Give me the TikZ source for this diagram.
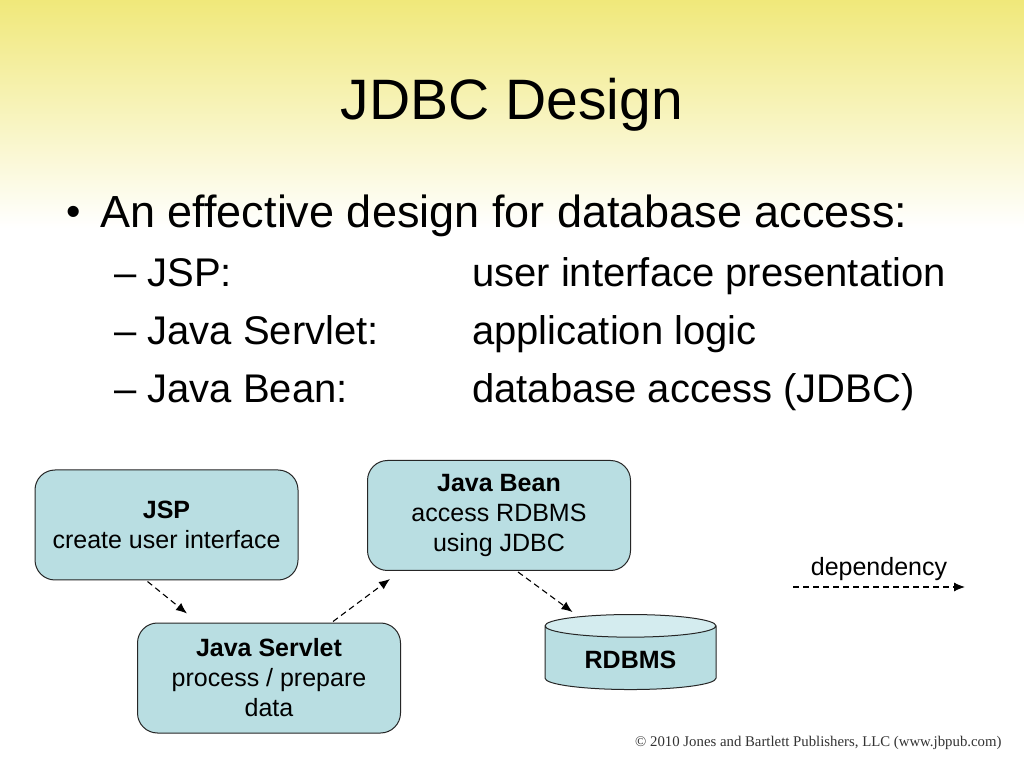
\documentclass[tikz,border=0pt]{standalone}
\usepackage{fontspec}
\setmainfont{Liberation Sans}
\newfontfamily\noticefont{Liberation Serif}
\usepackage{tikz}
\usetikzlibrary{shapes,arrows.meta,positioning,calc}
\definecolor{slideyellow}{RGB}{240,232,122}
\definecolor{boxblue}{RGB}{185,222,226}
\definecolor{capblue}{RGB}{212,236,239}
\tikzset{
block/.style = {draw=black!85, fill=boxblue, rounded corners=20pt, line width=1pt, minimum width=263pt, minimum height=110pt, align=center, font=\fontsize{25}{30}\selectfont},
dbase/.style = {draw=black!85, cylinder, shape border rotate=90, aspect=0.23, cylinder uses custom fill, cylinder body fill=boxblue, cylinder end fill=capblue, line width=1pt, minimum width=171pt, minimum height=75pt, font=\fontsize{25}{30}\selectfont\bfseries},
depend/.style = {->, dashed, dash pattern=on 6pt off 4pt, line width=1.1pt},
heading/.style = {font=\fontsize{57}{68}\selectfont, anchor=base},
item/.style = {font=\fontsize{45}{54}\selectfont, anchor=base west, inner sep=0pt},
subitem/.style = {font=\fontsize{40}{48}\selectfont, anchor=base west, inner sep=0pt}
}
\begin{document}
\begin{tikzpicture}[auto, x=1pt, y=1pt, node distance=2cm, >={Latex[length=11pt,width=9pt]}]
    \useasboundingbox (0,0) rectangle (1024,768);
    % slide background
    \fill[white] (0,0) rectangle (1024,768);
    \shade[top color=slideyellow, bottom color=white] (0,768) rectangle (1024,540);

    % title and bullets
    \node [heading] (title) at (512,648) {JDBC Design};
    \node [item, font=\fontsize{41}{48}\selectfont] (dot) at (66,542) {•};
    \node [item] (point) at (100,540) {An effective design for database access:};
    \node [subitem] (d1) at (114,481) {– JSP:};
    \node [subitem] (d2) at (114,423) {– Java Servlet:};
    \node [subitem] (d3) at (114,365) {– Java Bean:};
    \node [subitem] (r1) at (472,481) {user interface presentation};
    \node [subitem] (r2) at (472,423) {application logic};
    \node [subitem] (r3) at (472,365) {database access (JDBC)};

    % diagram
    \node [block] (jsp) at (166.5,243) {\textbf{JSP}\\create user interface};
    \node [block, below of=jsp, node distance=153pt, xshift=102.5pt] (servlet) {\textbf{Java Servlet}\\process / prepare\\data};
    \node [block, above of=servlet, node distance=162.5pt, xshift=230pt] (bean) {\textbf{Java Bean}\\access RDBMS\\using JDBC};
    \node [dbase, below of=bean, node distance=144pt, xshift=131.5pt] (rdbms) {RDBMS};
    \draw [depend] ([xshift=-19pt,yshift=-1pt]jsp.south) -- ([xshift=-82pt,yshift=9pt]servlet.north);
    \draw [depend] ([xshift=64pt,yshift=1pt]servlet.north) -- ([xshift=-109pt,yshift=-8pt]bean.south);
    \draw [depend] ([xshift=19pt,yshift=-1pt]bean.south) -- ([xshift=-58pt,yshift=2pt]rdbms.north);

    % legend
    \coordinate (dep1) at (793,181);
    \coordinate (dep2) at (965,181);
    \draw [depend] (dep1) -- node[name=deplabel, above, yshift=2pt, font=\fontsize{25}{30}\selectfont]{dependency} (dep2);

    \node [font=\noticefont\fontsize{14.8}{17}\selectfont, anchor=base east, text=black!80] (notice) at (1005,22) {© 2010 Jones and Bartlett Publishers, LLC (www.jbpub.com)};
\end{tikzpicture}
\end{document}
